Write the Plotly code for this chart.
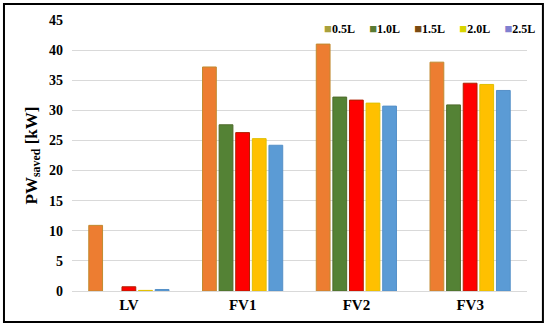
import plotly.graph_objects as go

categories = ["LV", "FV1", "FV2", "FV3"]
series_names = ["0.5L", "1.0L", "1.5L", "2.0L", "2.5L"]
v_05 = [10.9, 37.2, 41.0, 38.0]
v_10 = [None, 27.6, 32.2, 30.9]
v_15 = [0.7, 26.3, 31.7, 34.5]
v_20 = [0.1, 25.3, 31.2, 34.3]
v_25 = [0.25, 24.2, 30.7, 33.3]
series_values = [v_05, v_10, v_15, v_20, v_25]

bar_colors = ["#ED7D31", "#548235", "#FF0000", "#FFC000", "#5B9BD5"]
edge_colors = ["#C08A30", "#4E6A2A", "#B02000", "#E0C000", "#5590C8"]
legend_colors = ["#A8A03C", "#5A7A32", "#7A4A12", "#D8D400", "#8080D0"]

y_ticks = list(range(0, 46, 5))

FONT = "Liberation Serif"

fig = go.Figure()
for name, vals, c, e in zip(series_names, series_values, bar_colors, edge_colors):
    fig.add_trace(go.Bar(x=categories, y=vals, name=name, marker_color=c,
                         marker_line=dict(color=e, width=1), showlegend=False))

for name, lc in zip(series_names, legend_colors):
    fig.add_trace(go.Scatter(
        x=[None], y=[None], mode="markers",
        marker=dict(color="rgba(0,0,0,0)", size=1),
        name=f"<span style='color:{lc};font-size:13px'>■</span><b>{name}</b>",
        showlegend=True))
# spacer entry so the last legend label is not clipped
fig.add_trace(go.Scatter(x=[None], y=[None], mode="markers",
                         marker=dict(color="rgba(0,0,0,0)", size=1),
                         name=" ", showlegend=True, hoverinfo="skip"))

fig.update_layout(
    width=550, height=329,
    margin=dict(l=72, r=23, t=20, b=38, autoexpand=False),
    paper_bgcolor="white", plot_bgcolor="white",
    barmode="group", bargap=0.27, bargroupgap=0.17,
    font=dict(family=FONT, color="black", size=13),
    legend=dict(orientation="h", x=0.466, y=1.022, xanchor="left", yanchor="top",
                bgcolor="rgba(0,0,0,0)", entrywidth=0.1, entrywidthmode="pixels",
                itemwidth=30, font=dict(family=FONT, size=12)),
    xaxis=dict(showgrid=False, showline=False, ticks="", ticklabelstandoff=3,
               tickfont=dict(family=FONT, size=15, weight="bold")),
    yaxis=dict(range=[0, 45], tickvals=y_ticks, showgrid=True, gridcolor="#D9D9D9",
               gridwidth=1, zeroline=True, zerolinecolor="#D9D9D9", zerolinewidth=1,
               showline=False, ticks="", ticklabelstandoff=8,
               tickfont=dict(family=FONT, size=14, weight="bold"),
               title=dict(text="<b>PW<sub>saved</sub> [kW]</b>",
                          font=dict(family=FONT, size=17), standoff=7)),
    shapes=[dict(type="rect", xref="paper", yref="paper",
                 x0=-0.1495, x1=1.035, y0=-0.114, y1=1.059,
                 line=dict(color="black", width=2), fillcolor="rgba(0,0,0,0)")],
)

fig.write_html("out.html", config={"displayModeBar": False},
               post_script="document.body.style.margin='0';")
